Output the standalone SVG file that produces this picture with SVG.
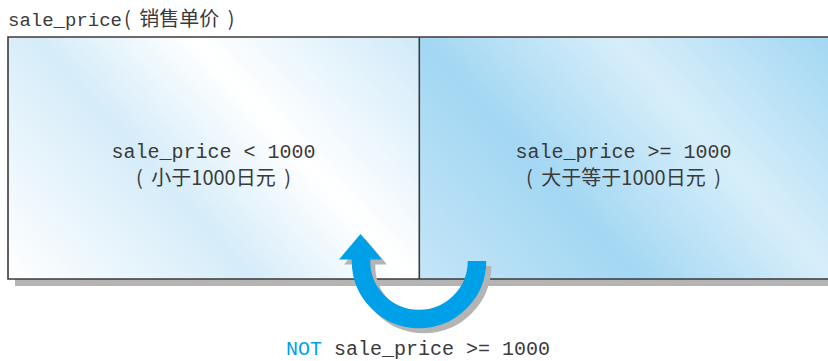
<svg xmlns="http://www.w3.org/2000/svg" width="828" height="361" viewBox="0 0 828 361">
  <style>
    .mono { font-family: "Liberation Mono", "Courier New", monospace; font-size: 20px; fill: #3a3a3a; }
    .cjk { font-family: "Noto Sans CJK SC", "Noto Sans", sans-serif; font-size: 20px; fill: #3a3a3a; word-spacing: 4px; }
    .edge { stroke: #3e3a39; stroke-width: 1.6; fill: none; }
    .shadow { fill: #b4b4b4; }
    .not { fill: #00a0e9; }
  </style>
  <defs>
    <linearGradient id="gLeft" gradientUnits="userSpaceOnUse" x1="8" y1="279" x2="355.5" y2="-33.8">
      <stop offset="0" stop-color="#ffffff"/>
      <stop offset="0.39" stop-color="#d5ecf9"/>
      <stop offset="0.64" stop-color="#ffffff"/>
      <stop offset="1" stop-color="#d0eaf9"/>
    </linearGradient>
    <linearGradient id="gRight" gradientUnits="userSpaceOnUse" x1="419" y1="279" x2="765.4" y2="-32.8">
      <stop offset="0" stop-color="#c4e5f8"/>
      <stop offset="0.35" stop-color="#a3d7f3"/>
      <stop offset="0.66" stop-color="#d7eefa"/>
      <stop offset="1" stop-color="#a3d7f3"/>
    </linearGradient>
    <g id="uArrow">
      <path d="M 477 261 A 58 58 0 0 1 361 261 L 361 259" fill="none" stroke="currentColor" stroke-width="18.5"/>
      <polygon points="339,259.5 360.5,234 382,259.5" fill="currentColor"/>
    </g>
  </defs>

  <g id="title">
    <text x="8" y="26" class="mono" style="font-size:19px">sale_price</text>
    <text x="124" y="26" class="cjk">( 销售单价 )</text>
  </g>

  <g id="frame">
    <rect class="shadow" x="15" y="44" width="830" height="242"/>
  </g>

  <g id="region-lt">
    <rect x="8" y="37" width="411.3" height="242" fill="url(#gLeft)"/>
    <text x="213.5" y="158" class="mono" text-anchor="middle">sale_price &lt; 1000</text>
    <text x="213.5" y="185" class="cjk" text-anchor="middle">( 小于1000日元 )</text>
  </g>

  <g id="region-ge">
    <rect x="419.3" y="37" width="412" height="242" fill="url(#gRight)"/>
    <text x="623.5" y="158" class="mono" text-anchor="middle">sale_price &gt;= 1000</text>
    <text x="623.5" y="185" class="cjk" text-anchor="middle">( 大于等于1000日元 )</text>
  </g>

  <g id="borders">
    <path class="edge" d="M 830 37 H 8 V 279 H 830"/>
    <path class="edge" d="M 419.3 37 V 279"/>
  </g>

  <g id="connectors">
    <use href="#uArrow" transform="translate(5,5)" color="#b4b4b4"/>
    <use href="#uArrow" color="#00a0e9"/>
  </g>

  <g id="label">
    <text x="418" y="355" class="mono" text-anchor="middle"><tspan class="not">NOT</tspan> sale_price &gt;= 1000</text>
  </g>
</svg>
